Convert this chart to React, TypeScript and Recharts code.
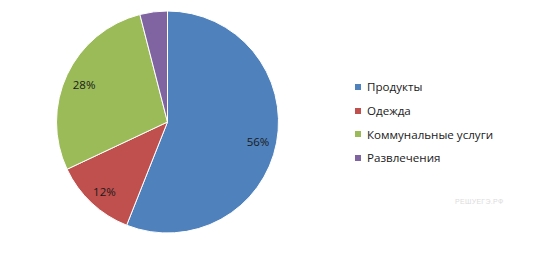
import { Legend, Pie, PieChart, Cell } from "recharts";

const categories = ["Продукты", "Одежда", "Коммунальные услуги", "Развлечения"];
const shares = [56, 12, 28, 4];
const colors = ["#4f81bd", "#c0504d", "#9bbb59", "#8064a2"];

const rows = categories.map((name, i) => ({ name, value: shares[i] }));

const RADIAN = Math.PI / 180;

interface LabelProps {
  cx?: number;
  cy?: number;
  midAngle?: number;
  outerRadius?: number;
  value?: number;
  index?: number;
}

const renderLabel = ({ cx = 0, cy = 0, midAngle = 0, outerRadius = 0, value, index }: LabelProps) => {
  if (index === 3) return null;
  const r = outerRadius * 0.83;
  const x = cx + r * Math.cos(-midAngle * RADIAN);
  const y = cy + r * Math.sin(-midAngle * RADIAN) + 2;
  return (
    <text
      x={x}
      y={y}
      fill="#1a1a1a"
      fontSize={11.5}
      fontFamily="'Open Sans', sans-serif"
      textAnchor="middle"
      dominantBaseline="central"
    >
      {value}%
    </text>
  );
};

const LegendContent = () => (
  <div style={{ fontFamily: "'Open Sans', sans-serif", fontSize: 11.6, color: "#1a1a1a" }}>
    {categories.map((name, i) => (
      <div key={name} style={{ display: "flex", alignItems: "center", height: 23.7 }}>
        <span
          style={{
            display: "inline-block",
            width: 6,
            height: 6,
            background: colors[i],
            marginRight: 6,
          }}
        />
        {name}
      </div>
    ))}
  </div>
);

export default function App() {
  return (
    <div style={{ position: "absolute", left: 0, top: 0, width: 539, height: 257, background: "#fff" }}>
      <PieChart width={539} height={257} margin={{ top: 0, right: 0, bottom: 0, left: 0 }}>
        <Pie
          data={rows}
          dataKey="value"
          nameKey="name"
          cx={167.5}
          cy={122}
          outerRadius={111}
          startAngle={90}
          endAngle={-270}
          stroke="#fff"
          strokeWidth={1}
          label={renderLabel}
          labelLine={false}
          isAnimationActive={false}
        >
          {rows.map((row, i) => (
            <Cell key={row.name} fill={colors[i]} />
          ))}
        </Pie>
        <Legend
          content={<LegendContent />}
          wrapperStyle={{ position: "absolute", left: 355, top: 75, width: 180 }}
        />
      </PieChart>
      <div
        style={{
          position: "absolute",
          left: 455,
          top: 198,
          fontFamily: "'Liberation Sans', sans-serif",
          fontSize: 7,
          color: "#dcdcdc",
          letterSpacing: 0.3,
        }}
      >
        РЕШУЕГЭ.РФ
      </div>
    </div>
  );
}
